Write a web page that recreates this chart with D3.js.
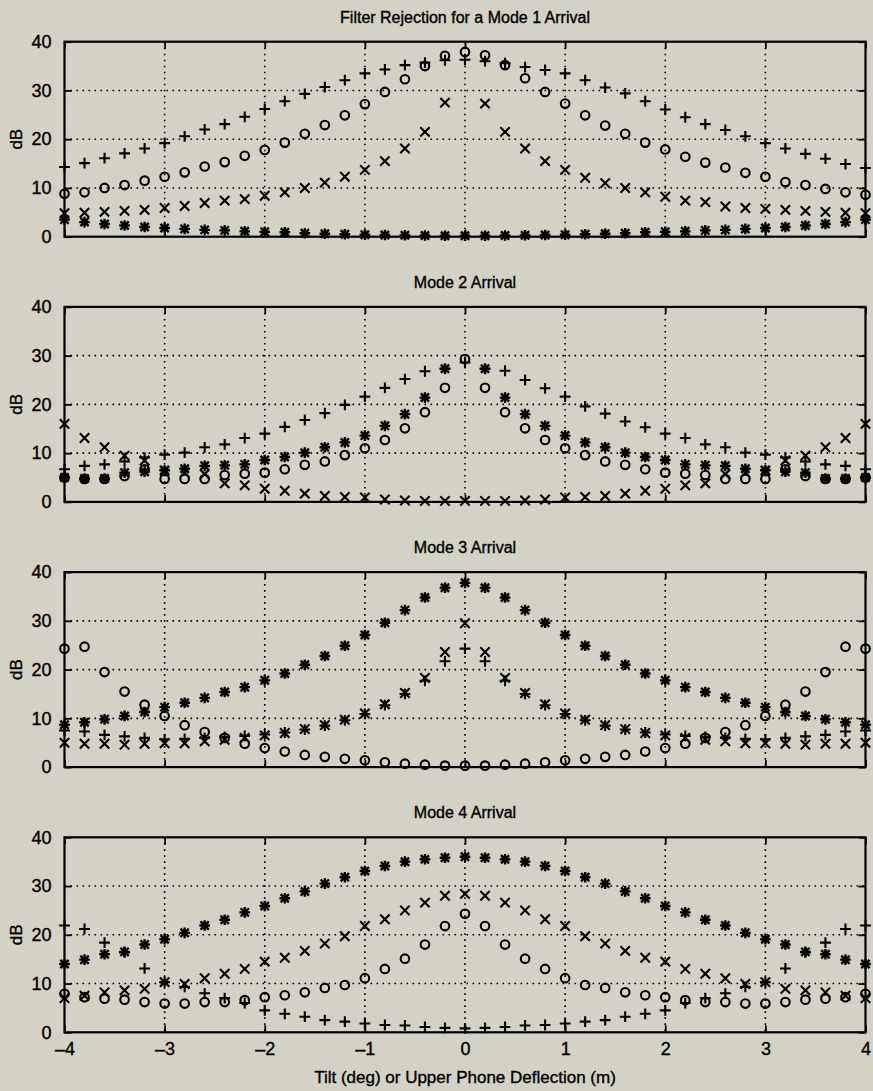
<!DOCTYPE html>
<html>
<head>
<meta charset="utf-8">
<script src="https://cdn.jsdelivr.net/npm/d3@7"></script>
<style>
  html, body { margin: 0; padding: 0; background: #d3d2c4; }
  svg { display: block; }
  text { font-family: "Liberation Sans", Arial, Helvetica, sans-serif; fill: #000; stroke: #000; stroke-width: 0.35px; }
</style>
</head>
<body>
<svg id="chart" width="873" height="1091"></svg>
<script>
// ---------------- DATA ----------------
const tilt = [-4,-3.8,-3.6,-3.4,-3.2,-3,-2.8,-2.6,-2.4,-2.2,-2,-1.8,-1.6,-1.4,-1.2,-1,-0.8,-0.6,-0.4,-0.2,0,
              0.2,0.4,0.6,0.8,1,1.2,1.4,1.6,1.8,2,2.2,2.4,2.6,2.8,3,3.2,3.4,3.6,3.8,4];
const xTicks = [-4,-3,-2,-1,0,1,2,3,4];
const yTicks = [0,10,20,30,40];
const panelTitles = ["Filter Rejection for a Mode 1 Arrival","Mode 2 Arrival","Mode 3 Arrival","Mode 4 Arrival"];
const xLabel = "Tilt (deg) or Upper Phone Deflection (m)";
const yLabel = "dB";

// Mode 1 arrival
const m1Plus   = [14.3,15.1,16.1,17.1,18.1,19.2,20.6,22.0,23.1,24.6,26.2,27.8,29.3,30.7,32.1,33.5,34.3,35.2,35.7,36.2,36.3,
                  36.0,35.6,34.8,34.2,33.5,32.1,30.6,29.4,27.8,26.1,24.5,23.1,21.9,20.6,19.2,18.1,17.0,16.0,14.9,14.1];
const m1Circle = [8.8,9.1,10.0,10.6,11.5,12.3,13.2,14.4,15.3,16.6,17.8,19.3,21.1,22.9,24.9,27.2,29.7,32.3,35.0,37.1,37.9,
                  37.2,35.2,32.5,29.7,27.3,24.9,22.8,21.1,19.3,17.9,16.4,15.2,14.2,13.1,12.3,11.2,10.6,9.8,9.1,8.6];
const m1Cross  = [4.8,4.9,5.1,5.3,5.5,5.9,6.3,6.9,7.4,7.7,8.4,9.1,10.0,11.1,12.3,13.7,15.5,18.1,21.5,27.5,null,
                  27.3,21.5,18.1,15.5,13.7,12.1,11.0,10.0,9.1,8.2,7.4,7.1,6.2,5.9,5.7,5.5,5.3,5.1,4.9,4.8];
const m1Star   = [3.5,3.0,2.6,2.3,2.0,1.8,1.6,1.4,1.3,1.1,1.0,0.9,0.7,0.6,0.5,0.4,0.35,0.3,0.25,0.2,0.2,
                  0.2,0.25,0.3,0.35,0.4,0.5,0.6,0.7,0.9,1.0,1.1,1.3,1.4,1.6,1.8,2.0,2.3,2.6,3.0,3.5];

// Mode 2 arrival
const m2Plus   = [6.7,7.4,7.7,8.3,9.1,9.7,10.1,11.2,11.8,13.1,14.0,15.4,16.8,18.2,19.9,21.6,23.4,25.2,26.8,27.3,28.6,
                  27.3,26.9,25.0,23.3,21.6,19.6,18.1,16.5,15.3,14.0,13.1,11.8,11.2,10.1,9.7,9.1,8.3,7.7,7.4,6.7];
const m2Circle = [5.0,4.7,4.7,5.3,6.7,4.7,4.7,4.7,5.5,5.8,6.0,6.7,7.6,8.3,9.6,11.0,12.7,15.1,18.4,23.4,29.3,
                  23.4,18.4,15.1,12.7,11.0,9.6,8.3,7.6,6.7,6.0,5.8,5.5,4.7,4.7,4.7,6.7,5.3,4.7,4.7,5.0];
const m2Cross  = [16.0,13.1,11.2,9.5,8.5,6.4,6.0,5.7,3.8,3.4,2.7,2.3,1.7,1.2,1.0,0.9,0.5,0.3,0.2,0.2,0.2,
                  0.2,0.2,0.3,0.5,0.9,1.0,1.2,1.7,2.3,2.7,3.4,3.8,5.7,6.0,6.4,8.5,9.5,11.2,13.1,16.0];
const m2Star   = [5.0,4.8,4.8,6.0,6.2,6.5,6.8,7.4,7.5,7.7,8.6,9.2,10.1,11.2,12.2,13.6,15.6,18.0,21.4,27.3,null,
                  27.3,21.4,18.0,15.6,13.6,12.2,11.2,10.1,9.2,8.6,7.7,7.5,7.4,6.8,6.5,6.2,6.0,4.8,4.8,5.0];

// Mode 3 arrival
const m3Plus   = [7.5,7.3,6.6,6.3,6.0,5.7,5.8,6.0,6.2,6.4,6.7,7.1,7.7,8.5,9.6,10.9,12.7,15.0,17.7,21.7,24.3,
                  21.7,17.7,15.0,12.7,10.9,9.6,8.5,7.7,7.1,6.7,6.4,6.2,6.0,5.8,5.7,6.0,6.3,6.6,7.3,7.5];
const m3Circle = [24.3,24.7,19.5,15.5,12.8,10.5,8.6,7.2,6.0,4.8,3.9,3.2,2.5,2.1,1.7,1.4,1.0,0.7,0.5,0.3,0.3,
                  0.3,0.5,0.7,1.0,1.4,1.7,2.1,2.5,3.2,3.9,4.8,6.0,7.2,8.6,10.5,12.8,15.5,19.5,24.7,24.3];
const m3Cross  = [5.0,4.8,4.8,4.6,4.8,4.9,4.9,5.3,5.6,6.0,6.5,7.0,7.8,8.6,9.7,11.0,12.9,15.2,18.3,23.6,29.5,
                  23.6,18.3,15.2,12.9,11.0,9.7,8.6,7.8,7.0,6.5,6.0,5.6,5.3,4.9,4.9,4.8,4.6,4.8,4.8,5.0];
const m3Star   = [8.7,9.2,9.8,10.5,11.3,12.3,13.2,14.2,15.4,16.4,17.8,19.2,21.0,22.8,24.9,27.1,29.6,32.2,34.8,36.8,37.8,
                  36.8,34.8,32.2,29.6,27.1,24.9,22.8,21.0,19.2,17.8,16.4,15.4,14.2,13.2,12.3,11.3,10.5,9.8,9.2,8.7];

// Mode 4 arrival
const m4Plus   = [21.9,21.2,18.4,16.4,13.1,10.3,9.3,8.0,7.0,6.0,4.5,3.8,3.2,2.5,2.2,1.8,1.5,1.4,1.1,0.9,0.8,
                  0.9,1.1,1.4,1.5,1.8,2.2,2.5,3.2,3.8,4.5,6.0,7.0,8.0,9.3,10.3,13.1,16.4,18.4,21.2,21.9];
const m4Circle = [7.9,7.2,6.9,6.7,6.2,5.9,5.9,6.2,6.2,6.6,7.2,7.6,8.2,9.1,9.7,11.1,13.0,15.1,18.0,21.8,24.3,
                  21.8,18.0,15.1,13.0,11.1,9.7,9.1,8.2,7.6,7.2,6.6,6.2,6.2,5.9,5.9,6.2,6.7,6.9,7.2,7.9];
const m4Cross  = [7.0,7.5,8.2,8.6,8.9,10.3,9.9,11.1,12.0,13.0,14.5,15.3,16.7,18.2,19.7,21.8,23.2,25.0,26.6,28.0,28.4,
                  28.0,26.6,25.0,23.2,21.8,19.7,18.2,16.7,15.3,14.5,13.0,12.0,11.1,9.9,10.3,8.9,8.6,8.2,7.5,7.0];
const m4Star   = [14.0,14.9,16.0,16.5,18.0,19.1,20.4,21.9,23.1,24.6,25.9,27.5,28.9,30.5,31.8,33.1,34.1,35.0,35.5,35.8,36.0,
                  35.8,35.5,35.0,34.1,33.1,31.8,30.5,28.9,27.5,25.9,24.6,23.1,21.9,20.4,19.1,18.0,16.5,16.0,14.9,14.0];

const panels = [
  {plus: m1Plus, circle: m1Circle, cross: m1Cross, star: m1Star},
  {plus: m2Plus, circle: m2Circle, cross: m2Cross, star: m2Star},
  {plus: m3Plus, circle: m3Circle, cross: m3Cross, star: m3Star},
  {plus: m4Plus, circle: m4Circle, cross: m4Cross, star: m4Star}
];

// ---------------- LAYOUT ----------------
const svg = d3.select("#chart");
const left = 64.5, right = 865.5;
const panelTop0 = 41.7, panelStep = 265.2, panelH = 195;
const x = d3.scaleLinear().domain([-4, 4]).range([left, right]);

const markerPath = {
  plus:   r => `M${-r},0H${r}M0,${-r}V${r}`,
  cross:  r => `M${-r},${-r}L${r},${r}M${-r},${r}L${r},${-r}`,
  star:   r => { const a = r * 0.78; return `M${-r},0H${r}M0,${-r}V${r}M${-a},${-a}L${a},${a}M${-a},${a}L${a},${-a}`; }
};

panels.forEach((p, k) => {
  const top = panelTop0 + k * panelStep;
  const y = d3.scaleLinear().domain([0, 40]).range([top + panelH, top]);
  const g = svg.append("g");

  // grid (dotted)
  g.selectAll(".vg").data(xTicks.slice(1, -1)).join("line")
    .attr("x1", d => x(d)).attr("x2", d => x(d))
    .attr("y1", top).attr("y2", top + panelH)
    .attr("stroke", "#000").attr("stroke-width", 1.6)
    .attr("stroke-dasharray", "1.6,4.4");
  g.selectAll(".hg").data(yTicks.slice(1, -1)).join("line")
    .attr("y1", d => y(d)).attr("y2", d => y(d))
    .attr("x1", left).attr("x2", right)
    .attr("stroke", "#000").attr("stroke-width", 1.6)
    .attr("stroke-dasharray", "1.6,4.4");

  // axes (D3 axes, ticks inward)
  const axB = d3.axisBottom(x).tickValues(xTicks).tickSize(-7).tickPadding(10)
    .tickFormat(k === 3 ? (d => d < 0 ? "\u2013" + Math.abs(d) : d) : () => "");
  const axT = d3.axisTop(x).tickValues(xTicks).tickSize(-7).tickFormat(() => "");
  const axL = d3.axisLeft(y).tickValues(yTicks).tickSize(-7).tickPadding(13);
  const axR = d3.axisRight(y).tickValues(yTicks).tickSize(-7).tickFormat(() => "");
  [[axB, `translate(0,${top + panelH})`], [axT, `translate(0,${top})`],
   [axL, `translate(${left},0)`], [axR, `translate(${right},0)`]].forEach(([ax, tr]) => {
    const a = g.append("g").attr("transform", tr).call(ax);
    a.select(".domain").remove();
    a.selectAll(".tick line").attr("stroke", "#000").attr("stroke-width", 1.8);
    a.selectAll("text").style("font-size", "18px").attr("fill", "#000");
  });

  // box
  g.append("rect").attr("x", left).attr("y", top).attr("width", right - left).attr("height", panelH)
    .attr("fill", "none").attr("stroke", "#000").attr("stroke-width", 2.2);

  // title
  g.append("text").attr("x", (left + right) / 2).attr("y", top - 19)
    .attr("text-anchor", "middle").style("font-size", "16px").text(panelTitles[k]);

  // y label
  g.append("text").attr("transform", `translate(22,${top + panelH / 2}) rotate(-90)`)
    .attr("text-anchor", "middle").style("font-size", "17px").text(yLabel);

  // markers
  const pts = key => tilt.map((t, i) => ({t, v: p[key][i]})).filter(d => d.v !== null);
  g.selectAll(".circ").data(pts("circle")).join("circle")
    .attr("cx", d => x(d.t)).attr("cy", d => y(d.v)).attr("r", 4.3)
    .attr("fill", "none").attr("stroke", "#000").attr("stroke-width", 2.1);
  ["plus", "cross", "star"].forEach(key => {
    const r = key === "plus" ? 5.4 : key === "cross" ? 4.7 : 5.3;
    g.selectAll(".m-" + key).data(pts(key)).join("path")
      .attr("transform", d => `translate(${x(d.t)},${y(d.v)})`)
      .attr("d", markerPath[key](r))
      .attr("fill", "none").attr("stroke", "#000").attr("stroke-width", key === "star" ? 2.4 : 2.1);
  });
});

// x label
svg.append("text").attr("x", (left + right) / 2).attr("y", 1083)
  .attr("text-anchor", "middle").style("font-size", "17px").text(xLabel);
</script>
</body>
</html>
